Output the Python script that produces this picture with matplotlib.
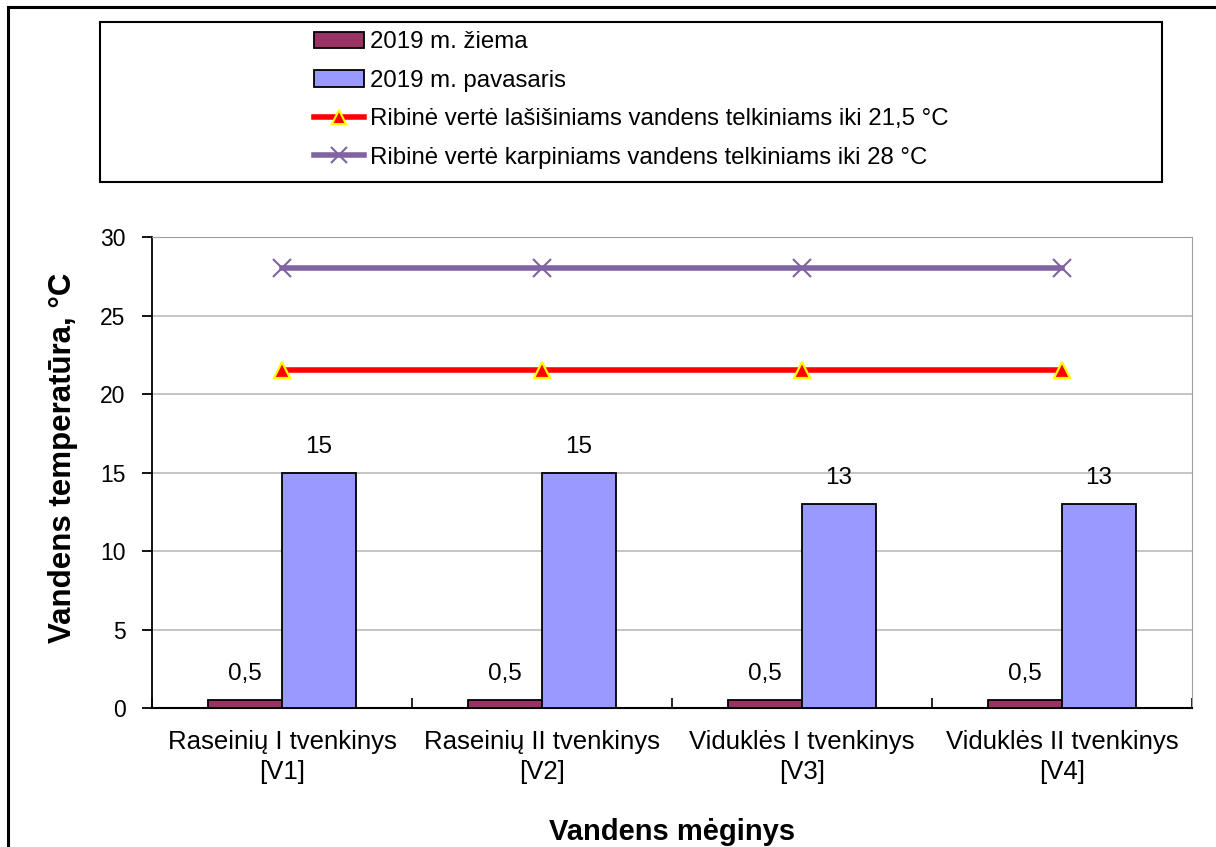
import matplotlib.pyplot as plt
import matplotlib.patches as mpatches
from matplotlib.lines import Line2D
import numpy as np

plt.rcParams['font.family'] = ['Liberation Sans', 'DejaVu Sans']

# ---------------- DATA ----------------
categories = ["Raseinių I tvenkinys\n[V1]", "Raseinių II tvenkinys\n[V2]",
              "Viduklės I tvenkinys\n[V3]", "Viduklės II tvenkinys\n[V4]"]
winter = [0.5, 0.5, 0.5, 0.5]
spring = [15, 15, 13, 13]
limit_salmon = [21.5, 21.5, 21.5, 21.5]
limit_carp = [28, 28, 28, 28]
winter_labels = ["0,5", "0,5", "0,5", "0,5"]
spring_labels = ["15", "15", "13", "13"]

series_names = ["2019 m. žiema", "2019 m. pavasaris",
                "Ribinė vertė lašišiniams vandens telkiniams iki 21,5 °C",
                "Ribinė vertė karpiniams vandens telkiniams iki 28 °C"]

c_winter = "#993366"
c_spring = "#9999FF"
c_red = "#FF0000"
c_purple = "#8064A2"

# ---------------- FIGURE ----------------
W, H = 1216, 847
fig = plt.figure(figsize=(W / 100, H / 100), dpi=100)

def fx(px):
    return px / W

def fy(py):
    return 1 - py / H

# outer chart frame (runs off the right/bottom edges)
fig.patches.append(mpatches.Rectangle((fx(8), fy(900)), fx(1300) - fx(8), fy(7) - fy(900),
                                      transform=fig.transFigure, fill=False,
                                      edgecolor="black", linewidth=2.2))

ax = fig.add_axes([fx(152), fy(708), fx(1192) - fx(152), fy(237) - fy(708)])

x = np.arange(len(categories))
bw = 0.285
ax.bar(x - bw / 2, winter, bw, color=c_winter, edgecolor="black", linewidth=1.3, zorder=3)
ax.bar(x + bw / 2, spring, bw, color=c_spring, edgecolor="black", linewidth=1.3, zorder=3)

ax.plot(x, limit_salmon, color=c_red, linewidth=4, marker="^", markersize=12,
        markerfacecolor=c_red, markeredgecolor="#FFFF00", markeredgewidth=1.6, zorder=4)
ax.plot(x, limit_carp, color=c_purple, linewidth=4, marker="x", markersize=13,
        markeredgewidth=1.5, zorder=4)

for i in range(len(x)):
    ax.text(x[i] - bw / 2, winter[i] + 0.95, winter_labels[i], ha="center", va="bottom", fontsize=17.5)
    ax.text(x[i] + bw / 2, spring[i] + 0.95, spring_labels[i], ha="center", va="bottom", fontsize=17.5)

ax.set_xlim(-0.5, len(x) - 0.5)
ax.set_ylim(0, 30)
ax.set_yticks(range(0, 31, 5))
ax.set_xticks(np.arange(-0.5, len(x), 1), minor=True)
ax.set_xticks(x)
ax.set_xticklabels(categories, fontsize=18.5, linespacing=1.32)
ax.tick_params(axis="x", which="major", length=0, pad=16)
ax.tick_params(axis="x", which="minor", length=7, width=1.2, direction="in")
ax.tick_params(axis="y", labelsize=16.5, length=7, width=1.3, direction="out", pad=12)
ax.yaxis.grid(True, color="#C0C0C0", linewidth=1.3, zorder=0)
ax.set_axisbelow(True)

ax.spines["left"].set_linewidth(1.3)
ax.spines["bottom"].set_linewidth(1.5)
ax.spines["top"].set_color("#A0A0A0")
ax.spines["right"].set_color("#A0A0A0")

ax.set_ylabel("Vandens temperatūra, °C", fontsize=22.5, fontweight="bold")
ax.yaxis.set_label_coords((78 - 152) / (1192 - 152), (708 - 458) / (708 - 237))
ax.set_xlabel("Vandens mėginys", fontsize=21, fontweight="bold", labelpad=24)

# ---------------- LEGEND ----------------
fig.patches.append(mpatches.Rectangle((fx(100), fy(182)), fx(1162) - fx(100), fy(22) - fy(182),
                                      transform=fig.transFigure, fill=False,
                                      edgecolor="black", linewidth=1.5))
handles = [
    mpatches.Patch(facecolor=c_winter, edgecolor="black", linewidth=1.3),
    mpatches.Patch(facecolor=c_spring, edgecolor="black", linewidth=1.3),
    Line2D([], [], color=c_red, linewidth=4, marker="^", markersize=10,
           markerfacecolor=c_red, markeredgecolor="#FFFF00", markeredgewidth=1.5),
    Line2D([], [], color=c_purple, linewidth=4, marker="x", markersize=12, markeredgewidth=1.5),
]
fig.legend(handles, series_names, loc="center", bbox_to_anchor=(fx(631), fy(100)),
           frameon=False, fontsize=17.3, labelspacing=0.68, handlelength=2.1,
           handletextpad=0.25, handleheight=0.7, borderpad=0)

fig.savefig("out.png", dpi=100)
